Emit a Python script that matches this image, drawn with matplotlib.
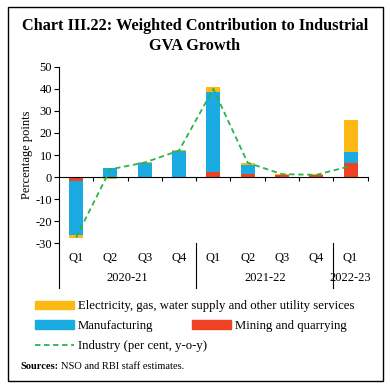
import matplotlib.pyplot as plt
import matplotlib.transforms as mtransforms
from matplotlib.patches import Patch, Rectangle
from matplotlib.lines import Line2D
import numpy as np

plt.rcParams['font.family'] = ['Liberation Serif', 'DejaVu Serif']
plt.rcParams['axes.unicode_minus'] = False

quarters = ['Q1', 'Q2', 'Q3', 'Q4', 'Q1', 'Q2', 'Q3', 'Q4', 'Q1']
years = ['2020-21', '2021-22', '2022-23']
year_spans = [(0, 3), (4, 7), (8, 8)]

mining = [-1.7, -0.3, -0.4, -0.3, 2.5, 1.2, 0.9, 0.8, 6.3]
manufacturing = [-24.6, 4.2, 6.5, 11.9, 36.0, 4.4, -0.2, -0.2, 4.9]
electricity = [-1.4, -0.5, 0.5, 0.5, 2.2, 1.0, 0.5, 0.4, 14.8]
industry = [-27.5, 3.5, 6.6, 12.0, 40.0, 6.5, 1.3, 1.0, 5.0]

c_elec = '#FDB913'
c_manu = '#1AABE2'
c_mine = '#EF4123'
c_ind = '#2BB34B'

fig = plt.figure(figsize=(3.9, 3.89), dpi=100)
ax = fig.add_axes([0.151, 0.375, 0.792, 0.453])

x = np.arange(len(quarters))
w = 0.41
mining = np.array(mining)
manufacturing = np.array(manufacturing)
electricity = np.array(electricity)

# stack positives and negatives separately
pos_base = np.zeros(len(x))
neg_base = np.zeros(len(x))
for vals, col in [(mining, c_mine), (manufacturing, c_manu), (electricity, c_elec)]:
    base = np.where(vals >= 0, pos_base, neg_base)
    ax.bar(x, vals, w, bottom=base, color=col, zorder=2)
    pos_base = pos_base + np.where(vals >= 0, vals, 0)
    neg_base = neg_base + np.where(vals < 0, vals, 0)

ax.plot(x, industry, color=c_ind, ls=(0, (3, 2)), lw=1.3, zorder=3)

ax.set_xlim(-0.5, len(x) - 0.5)
ax.set_ylim(-30, 50)
ax.set_yticks(range(-30, 51, 10))
ax.tick_params(axis='y', length=3.5, width=0.8, labelsize=9, pad=1.5)
ax.set_ylabel('Percentage points', fontsize=9, labelpad=2)

for s in ['top', 'right']:
    ax.spines[s].set_visible(False)
ax.spines['bottom'].set_position(('data', 0))
ax.spines['left'].set_linewidth(0.8)
ax.spines['bottom'].set_linewidth(0.8)
ax.set_xticks([])
ax.set_xticks(np.arange(0.5, len(x) - 0.5 + 0.01, 1.0), minor=True)
ax.tick_params(axis='x', which='minor', direction='out', length=3, width=0.8)

trans = mtransforms.blended_transform_factory(ax.transData, ax.transAxes)
for i, q in enumerate(quarters):
    ax.text(i, -0.085, q, transform=trans, ha='center', va='center', fontsize=9)
for yl, (a, b) in zip(years, year_spans):
    ax.text((a + b) / 2, -0.2, yl, transform=trans, ha='center', va='center', fontsize=9)
for sep in [-0.5, 3.5, 7.5]:
    ax.plot([sep, sep], [0, -0.256], transform=trans, color='black', lw=0.8, clip_on=False)

# title
fig.text(0.5, 0.908, 'Chart III.22: Weighted Contribution to Industrial\nGVA Growth',
         ha='center', va='center', fontsize=11.7, fontweight='bold', linespacing=1.3)

# legends
fs = 9.2
common = dict(frameon=False, fontsize=fs, handlelength=3.05, handleheight=0.6,
              handletextpad=0.3, borderaxespad=0, borderpad=0, loc='center left')
fig.legend(handles=[Patch(color=c_elec, label='Electricity, gas, water supply and other utility services')],
           bbox_to_anchor=(0.09, 0.213), **common)
fig.legend(handles=[Patch(color=c_manu, label='Manufacturing'), Patch(color=c_mine, label='Mining and quarrying')],
           bbox_to_anchor=(0.09, 0.162), ncol=2, columnspacing=3.0, **common)
fig.legend(handles=[Line2D([], [], color=c_ind, ls=(0, (3, 2)), lw=1.3, label='Industry (per cent, y-o-y)')],
           bbox_to_anchor=(0.09, 0.111), **common)

fig.text(0.052, 0.059, 'Sources:', fontsize=7.5, fontweight='bold', va='center')
fig.text(0.156, 0.059, 'NSO and RBI staff estimates.', fontsize=7.5, va='center')

fig.patches.append(Rectangle((8 / 390, 1 - 381 / 389), 375 / 390, 374 / 389,
                             transform=fig.transFigure, fill=False, lw=1.0, ec='black'))

fig.savefig('out.png', dpi=100)
